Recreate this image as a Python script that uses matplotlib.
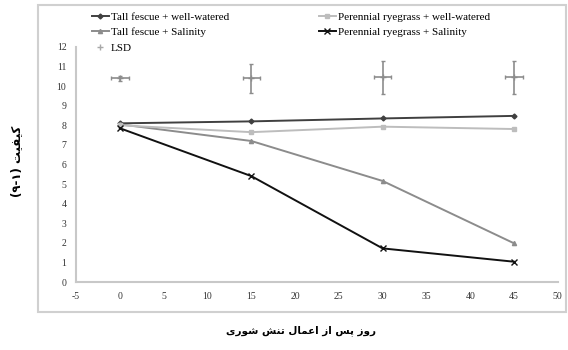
import matplotlib
matplotlib.use('Agg')
import matplotlib.pyplot as plt
from matplotlib.patches import Rectangle
from matplotlib.lines import Line2D

plt.rcParams['axes.unicode_minus'] = False

# days after salinity stress
days = [0, 15, 30, 45]

tf_ww = [8.1, 8.2, 8.35, 8.48]
pr_ww = [8.0, 7.65, 7.93, 7.81]
tf_sal = [8.05, 7.2, 5.16, 1.98]
pr_sal = [7.85, 5.41, 1.72, 1.04]

lsd_y = [10.4, 10.4, 10.45, 10.45]
lsd_yerr = [0.12, 0.73, 0.85, 0.85]
lsd_xerr = [1.0, 1.0, 1.0, 1.0]

labels = ['Tall fescue + well-watered', 'Tall fescue + Salinity', 'LSD',
          'Perennial ryegrass + well-watered', 'Perennial ryegrass + Salinity']

# Persian labels written in visual (shaped, left-to-right) order
xlabel = '\ufbfc\ufead\ufeee\ufeb7 \ufeb6\ufee8\ufe97 \ufedd\ufe8e\ufee4\ufecb\ufe8d \ufeaf\ufe8d \ufeb2\ufb58 \ufeaf\ufeed\ufead'
ylabel = '(\u06f9-\u06f1) \ufe96\ufbff\ufed4\ufbff\ufb90'

fig = plt.figure(figsize=(5.68, 3.5), dpi=100)
ax = fig.add_axes([0.134, 0.194, 0.848, 0.672])

# outer chart border
fig.patches.append(Rectangle((0.067, 0.109), 0.93, 0.877, transform=fig.transFigure,
                             fill=False, edgecolor='#d0d0d0', linewidth=1.5))

h1, = ax.plot(days, tf_ww, color='#404040', lw=1.4, marker='D', ms=2.5)
h2, = ax.plot(days, tf_sal, color='#8c8c8c', lw=1.4, marker='^', ms=3)
h4, = ax.plot(days, pr_ww, color='#bdbdbd', lw=1.4, marker='s', ms=3)
h5, = ax.plot(days, pr_sal, color='#111111', lw=1.4, marker='x', ms=4)
ax.errorbar(days, lsd_y, yerr=lsd_yerr, xerr=lsd_xerr, fmt='+', color='#8c8c8c',
            ecolor='#8c8c8c', elinewidth=1.2, capsize=1.5, ms=5)
h3 = Line2D([], [], ls='none', marker='+', ms=5, color='#a8a8a8')

ax.set_xlim(-5, 50)
ax.set_ylim(0, 12)
ax.set_xticks(range(-5, 55, 5))
ax.set_yticks(range(0, 13))
for s in ['top', 'right']:
    ax.spines[s].set_visible(False)
for s in ['left', 'bottom']:
    ax.spines[s].set_color('#c8c8c8')
    ax.spines[s].set_linewidth(1.5)
ax.tick_params(length=0, labelsize=7, colors='#333333', pad=7)
for t in ax.get_xticklabels() + ax.get_yticklabels():
    t.set_family('Liberation Serif')

leg = ax.legend([h1, h2, h3, h4, h5], labels, ncol=2, loc='upper left',
                bbox_to_anchor=(0.162, 0.965), bbox_transform=fig.transFigure,
                frameon=False, prop={'family': 'Liberation Serif', 'size': 8},
                handlelength=1.5, handletextpad=0.2, labelspacing=0.5,
                columnspacing=8.1, borderpad=0, borderaxespad=0)

fig.text(0.53, 0.055, xlabel, ha='center', va='center', fontsize=7.5,
         fontweight='bold', family='DejaVu Sans')
fig.text(0.03, 0.54, ylabel, ha='center', va='center', rotation=90,
         fontsize=8.5, fontweight='bold', family='DejaVu Sans')

fig.savefig('out.png', dpi=100)
